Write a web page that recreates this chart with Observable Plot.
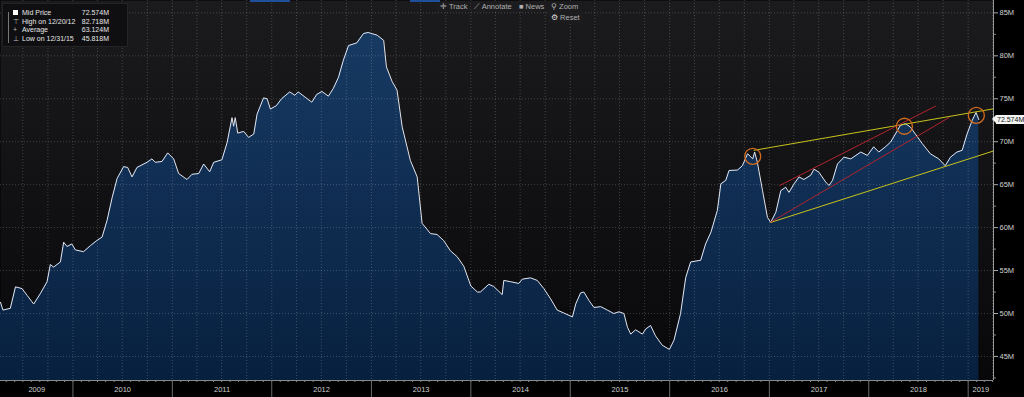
<!DOCTYPE html>
<html>
<head>
<meta charset="utf-8">
<script src="https://cdn.jsdelivr.net/npm/d3@7"></script>
<script src="https://cdn.jsdelivr.net/npm/@observablehq/plot@0.6"></script>
<style>
  html, body { margin: 0; padding: 0; background: #000; }
  #wrap { position: relative; width: 1024px; height: 397px; overflow: hidden; font-family: "Liberation Sans", Arial, sans-serif; }
  #legend { position: absolute; left: 2px; top: 3px; width: 124px; height: 42px; background: rgba(14,14,16,0.92); border: 1px solid #242426; color: #e6e6e6; font-size: 7px; }
  #legend .row { position: absolute; left: 0; width: 124px; height: 9px; line-height: 9px; }
  #legend .lab { position: absolute; left: 19px; }
  #legend .val { position: absolute; right: 18px; }
  #legend .ico { position: absolute; left: 10px; color: #bbb; }
  #tree { position: absolute; left: 5px; top: 8px; width: 1px; height: 31px; background: #777; }
  .btn { position: absolute; height: 11px; line-height: 11px; background: #1c1c1e; color: #b0b0b0; font-size: 7.5px; padding: 0 3px; }
  .tab { position: absolute; top: 0; height: 2px; background: #1f4f9a; }
  #lastTag { position: absolute; left: 996px; height: 9px; line-height: 9px; background: #f4f4f4; color: #111; font-size: 7px; padding: 0 1px; }
  #lastTag:before { content: ""; position: absolute; left: -4px; top: 0; border-top: 4.5px solid transparent; border-bottom: 4.5px solid transparent; border-right: 4px solid #f4f4f4; }
</style>
</head>
<body>
<div id="wrap"></div>
<script>
// ---- series (Mid Price, millions) ----
const dates = [
 "2009-04-10","2009-04-19","2009-05-16","2009-06-04","2009-06-28","2009-07-17","2009-08-10","2009-09-03","2009-09-28","2009-10-10",
 "2009-10-22","2009-11-16","2009-11-28","2009-12-10","2009-12-28","2010-01-10","2010-02-09","2010-03-06","2010-03-30","2010-04-18",
 "2010-05-06","2010-05-25","2010-06-12","2010-07-06","2010-07-21","2010-08-06","2010-08-24","2010-09-30","2010-10-18","2010-10-30",
 "2010-11-24","2010-12-15","2011-01-06","2011-01-24","2011-02-24","2011-03-14","2011-04-08","2011-04-26","2011-05-18","2011-06-02",
 "2011-07-02","2011-07-21","2011-08-08","2011-08-14","2011-08-20","2011-08-29","2011-09-20","2011-10-08","2011-10-27","2011-11-08",
 "2011-12-02","2011-12-15","2011-12-27","2012-01-18","2012-02-06","2012-03-07","2012-03-26","2012-04-07","2012-05-02","2012-05-27",
 "2012-06-14","2012-07-03","2012-07-27","2012-08-14","2012-09-02","2012-09-20","2012-10-09","2012-11-08","2012-12-03","2012-12-20",
 "2013-01-22","2013-02-15","2013-02-25","2013-03-18","2013-04-05","2013-04-24","2013-05-24","2013-06-18","2013-07-06","2013-08-06",
 "2013-08-30","2013-09-23","2013-10-18","2013-11-12","2013-12-06","2014-01-01","2014-01-25","2014-02-05","2014-03-08","2014-03-26",
 "2014-04-26","2014-05-02","2014-05-27","2014-06-26","2014-07-09","2014-08-08","2014-09-02","2014-09-26","2014-10-21","2014-11-14",
 "2014-12-09","2015-01-09","2015-01-21","2015-02-08","2015-02-20","2015-03-11","2015-03-29","2015-04-23","2015-05-17","2015-06-10",
 "2015-06-29","2015-07-17","2015-07-30","2015-08-11","2015-08-29","2015-09-23","2015-10-05","2015-10-23","2015-11-10","2015-12-05",
 "2015-12-31","2016-01-17","2016-02-10","2016-02-29","2016-03-18","2016-04-24","2016-05-12","2016-06-01","2016-06-24","2016-07-07",
 "2016-07-25","2016-08-06","2016-09-06","2016-09-24","2016-10-13","2016-11-01","2016-11-08","2016-11-18","2016-12-07","2016-12-25",
 "2017-01-06","2017-01-25","2017-02-12","2017-03-02","2017-03-14","2017-04-02","2017-04-20","2017-05-08","2017-06-02","2017-06-14",
 "2017-07-02","2017-07-27","2017-08-08","2017-08-21","2017-09-08","2017-10-02","2017-10-27","2017-12-03","2017-12-27","2018-01-19",
 "2018-02-07","2018-03-03","2018-03-22","2018-04-09","2018-04-27","2018-05-16","2018-06-03","2018-06-21","2018-07-16","2018-08-15",
 "2018-09-15","2018-10-09","2018-10-28","2018-11-21","2018-12-10","2018-12-28","2019-01-16","2019-01-30","2019-02-09"
];
const values = [
 51.3,50.4,50.6,53.1,52.9,52.1,51.1,52.3,53.7,55.7,
 55.4,56.0,58.3,57.8,58.1,57.4,57.2,57.9,58.5,58.9,
 60.8,63.5,65.7,67.1,67.0,65.9,67.0,67.6,68.0,67.6,
 67.7,68.7,68.0,66.3,65.6,66.2,66.3,67.4,66.5,67.6,
 67.9,69.9,72.8,71.8,72.8,71.0,71.2,70.5,70.9,73.2,
 75.1,75.0,73.8,74.2,75.0,75.8,75.4,75.8,75.2,74.6,
 75.5,75.85,75.3,76.2,77.5,79.5,81.2,81.5,82.6,82.718,
 82.4,81.8,78.7,77.0,76.0,71.7,67.8,65.9,60.5,59.3,
 59.2,58.5,57.3,56.6,55.5,53.2,52.5,52.5,53.4,53.15,
 52.2,53.85,53.7,53.5,54.0,54.15,53.85,52.9,51.7,50.4,
 50.05,49.6,51.1,52.4,52.5,51.5,50.7,50.8,50.4,50.0,
 50.2,50.0,48.4,47.6,48.1,47.6,48.2,48.6,47.4,46.3,
 45.818,46.9,50.0,54.2,56.0,56.2,58.1,59.5,62.0,65.1,
 65.5,66.65,66.7,67.2,68.6,68.0,68.8,67.6,64.3,61.2,
 60.6,61.8,64.3,64.7,64.1,65.1,65.9,65.6,66.1,66.8,
 66.45,65.3,64.9,65.5,67.4,68.2,68.0,68.8,68.4,69.4,
 68.8,69.4,69.95,70.9,71.9,72.1,71.7,70.9,69.8,68.6,
 68.0,67.2,68.2,68.8,69.0,70.9,72.5,73.4,72.574
];

// ---- annotations ----
const yellowTopDates = ["2016-11-06", "2019-04-04"];
const yellowTopValues = [69.0, 73.83];
const yellowBottomDates = ["2017-01-06", "2019-04-04"];
const yellowBottomValues = [60.6, 68.92];
const redTopDates = ["2017-02-08", "2018-09-03"];
const redTopValues = [64.9, 74.14];
const redBottomDates = ["2017-01-06", "2018-10-22"];
const redBottomValues = [60.64, 72.8];
const circleDates = ["2016-11-01", "2018-05-12", "2019-01-31"];
const circleValues = [68.3, 71.8, 73.06];

// ---- axes / text ----
const xDomainDates = ["2009-04-10", "2019-04-04"];
const yDomain = [42.2, 86.44];
const yTicks = [45, 50, 55, 60, 65, 70, 75, 80, 85];
const yMinorTicks = [42.5, 47.5, 52.5, 57.5, 62.5, 67.5, 72.5, 77.5, 82.5];
const yearLabels = ["2009","2010","2011","2012","2013","2014","2015","2016","2017","2018","2019"];
const legendLabels = ["Mid Price", "High on 12/20/12", "Average", "Low on 12/31/15"];
const legendValues = ["72.574M", "82.718M", "63.124M", "45.818M"];
const lastValue = 72.574;
const toolbarButtons = ["✛ Track", "⟋ Annotate", "■ News", "⚲ Zoom"];

const parse = d3.utcParse("%Y-%m-%d");
const data = dates.map((d, i) => ({date: parse(d), value: values[i]}));
const seg = (ds, vs, name) => ds.map((d, i) => ({date: parse(d), value: vs[i], name}));
const trendData = [
  ...seg(yellowTopDates, yellowTopValues, "yt"),
  ...seg(yellowBottomDates, yellowBottomValues, "yb"),
  ...seg(redTopDates, redTopValues, "rt"),
  ...seg(redBottomDates, redBottomValues, "rb")
];
const circles = seg(circleDates, circleValues, "c");
const xDomain = xDomainDates.map(parse);

const yearStarts = yearLabels.map(y => parse(y + "-01-01")).filter(d => d > xDomain[0] && d < xDomain[1]);
const yearMids = yearLabels.map(y => {
  const a = Math.max(+parse(y + "-01-01"), +xDomain[0]);
  const b = Math.min(+parse((+y + 1) + "-01-01"), +xDomain[1]);
  return {date: new Date((a + b) / 2), label: y};
});
const monthStarts = d3.utcMonth.range(xDomain[0], xDomain[1]);
const quarterStarts = d3.utcMonth.every(3).range(xDomain[0], xDomain[1]);

const colorOf = {yt: "#c9c21a", yb: "#c9c21a", rt: "#b3232e", rb: "#b3232e"};

const chart = Plot.plot({
  width: 1024,
  height: 397,
  marginLeft: 0,
  marginRight: 31,
  marginTop: 0,
  marginBottom: 17,
  style: {background: "transparent", color: "#cfcfcf", fontSize: "7.5px", fontFamily: "'Liberation Sans', Arial, sans-serif"},
  x: {type: "utc", domain: xDomain, axis: null},
  y: {domain: yDomain, axis: null},
  marks: [
    Plot.frame({fill: "url(#bgGrad)", stroke: null}),
    Plot.areaY(data, {x: "date", y1: yDomain[0], y2: "value", fill: "url(#areaGrad)", curve: "linear"}),
    Plot.gridX(quarterStarts, {stroke: "#ffffff", strokeOpacity: 0.2, strokeDasharray: "1,2"}),
    Plot.gridY(yTicks, {stroke: "#ffffff", strokeOpacity: 0.2, strokeDasharray: "1,2"}),
    Plot.lineY(data, {x: "date", y: "value", stroke: "#e4e6ee", strokeWidth: 1}),
    Plot.line(trendData, {x: "date", y: "value", z: "name", stroke: d => colorOf[d.name], strokeWidth: 1}),
    Plot.dot(circles, {x: "date", y: "value", r: 8, stroke: "#cf6a1e", strokeWidth: 1.3, fill: "none"}),
    Plot.ruleX([xDomain[1]], {stroke: "#9a9a9a"}),
    Plot.ruleY([yDomain[0]], {stroke: "#8a8a8a"}),
    Plot.axisY(yTicks, {anchor: "right", label: null, tickSize: 4, tickPadding: 2, tickFormat: d => d + "M", stroke: "#aaa", color: "#d0d0d0"}),
    Plot.axisY(yMinorTicks, {anchor: "right", label: null, tickSize: 2, tickFormat: () => "", stroke: "#888"}),
    Plot.axisX(monthStarts, {anchor: "bottom", label: null, tickSize: 2, tickFormat: () => "", stroke: "#8a8a8a"}),
    Plot.axisX(yearStarts, {anchor: "bottom", label: null, tickSize: 17, tickFormat: () => "", stroke: "#6a6a6a"}),
    Plot.text(yearMids, {x: "date", text: "label", frameAnchor: "bottom", dy: 11, fill: "#cfcfcf"})
  ]
});

d3.select(chart).insert("defs", ":first-child").html(`
  <linearGradient id="bgGrad" x1="0" y1="0" x2="0" y2="1">
    <stop offset="0" stop-color="#1b1b1e"/>
    <stop offset="1" stop-color="#08080a"/>
  </linearGradient>
  <linearGradient id="areaGrad" gradientUnits="userSpaceOnUse" x1="0" y1="0" x2="0" y2="380">
    <stop offset="0" stop-color="#183c66"/>
    <stop offset="1" stop-color="#08203f"/>
  </linearGradient>`);

const wrap = document.getElementById("wrap");
wrap.appendChild(chart);

// legend overlay
const legend = document.createElement("div");
legend.id = "legend";
let lh = `<div id="tree"></div>`;
const icons = ["<span style='display:inline-block;width:5px;height:5px;background:#fff;margin-top:2px'></span>", "⊤", "+", "⊥"];
legendLabels.forEach((l, i) => {
  lh += `<div class="row" style="top:${4 + i * 8.5}px"><span class="ico">${icons[i]}</span><span class="lab">${l}</span><span class="val">${legendValues[i]}</span></div>`;
});
legend.innerHTML = lh;
wrap.appendChild(legend);

// toolbar
const btnLeft = [437, 471, 516, 548];
toolbarButtons.forEach((b, i) => {
  const e = document.createElement("div");
  e.className = "btn"; e.textContent = b;
  e.style.left = btnLeft[i] + "px"; e.style.top = "1px";
  wrap.appendChild(e);
});
const reset = document.createElement("div");
reset.className = "btn"; reset.innerHTML = "<span style='color:#ddd'>⚙</span> Reset";
reset.style.left = "548px"; reset.style.top = "12px";
wrap.appendChild(reset);
[[250, 40], [410, 30]].forEach(([l, w]) => {
  const t = document.createElement("div"); t.className = "tab";
  t.style.left = l + "px"; t.style.width = w + "px"; wrap.appendChild(t);
});

// last price tag
const tag = document.createElement("div");
tag.id = "lastTag";
tag.textContent = legendValues[0];
tag.style.top = (chart.scale("y").apply(lastValue) - 4.5) + "px";
wrap.appendChild(tag);
</script>
</body>
</html>
